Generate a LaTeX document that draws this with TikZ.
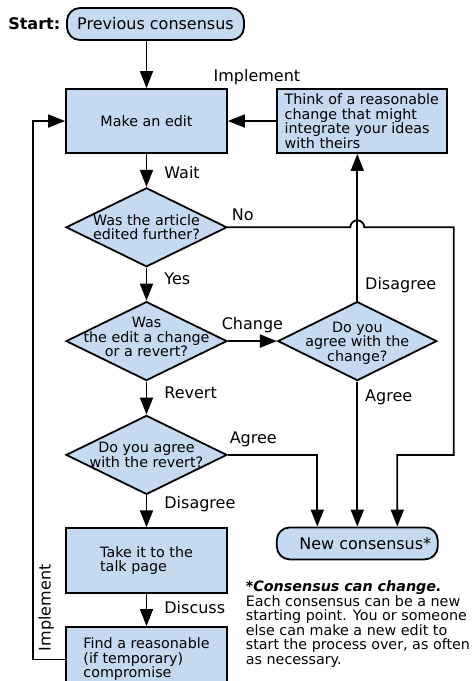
\documentclass[tikz,border=0pt]{standalone}
\usepackage{fontspec}
\setmainfont{DejaVu Sans}
\usepackage{tikz}
\usetikzlibrary{positioning,shapes.geometric,arrows.meta,calc}
\definecolor{boxblue}{RGB}{197,217,240}
\newcommand{\boxfont}{\fontsize{14.3}{14.5}\selectfont}
\newcommand{\lblfont}{\fontsize{16}{18}\selectfont}

\begin{document}
\begin{tikzpicture}[x=1pt, y=-1pt, line width=1.8pt, >={Triangle[length=17pt,width=13pt]},
	box/.style={draw, rectangle, fill=boxblue, minimum width=161pt, minimum height=64pt, align=left, font=\boxfont},
	term/.style={draw, rectangle, rounded corners=13pt, fill=boxblue, minimum height=32pt, font=\lblfont},
	decision/.style={draw, diamond, fill=boxblue, minimum width=161pt, minimum height=79pt, inner sep=0pt},
	dtext/.style={align=center, font=\boxfont, inner sep=0pt},
	lbl/.style={font=\lblfont, inner sep=0pt, text height=11.7pt, text depth=0pt}]
					\useasboundingbox (0,0) rectangle (472,681);
					\node[term, minimum width=177pt] (prev) at (155.5,24) {Previous consensus};
					\node[lbl, font={\lblfont\bfseries}, left=5pt of prev] (start) {Start:};
					\node[box] (edit) at (146.5,121) {Make an edit};
					\node[box, minimum width=170pt, right=48pt of edit] (think) {Think of a reasonable\\change that might\\integrate your ideas\\with theirs};
					\node[decision, below=33pt of edit, label={[dtext]center:{Was the article\\edited further?}}] (q1) {};
					\node[decision, below=33pt of q1, label={[dtext, yshift=4pt]center:{Was\\the edit a change\\or a revert?}}] (q2) {};
					\node[decision, minimum width=159pt, right=49pt of q2, label={[dtext, yshift=-2pt]center:{Do you\\agree with the\\change?}}] (q3) {};
					\node[decision, below=33pt of q2, label={[dtext]center:{Do you agree\\with the revert?}}] (q4) {};
					\node[box, minimum height=65pt, below=32pt of q4] (take) {Take it to the\\talk page};
					\node[box, minimum height=65pt, below=32pt of take] (find) {Find a reasonable\\(if temporary)\\compromise};
					\node[term, minimum width=161pt, below=145pt of q3] (new) {\hspace*{16pt}New consensus*};
					\node[align=left, font=\boxfont, inner sep=0pt, anchor=west] (note) at (245,624) {\textbf{\textit{*Consensus can change.}}\\Each consensus can be a new\\starting point. You or someone\\else can make a new edit to\\start the process over, as often\\as necessary.};
					
					\draw[->] (prev.south -| edit.north) -- (edit.north);
					\draw[->] (think.west) -- (edit.east) node[lbl, midway, yshift=45pt, xshift=5pt] {Implement};
					\draw[->] (edit) -- (q1) node[lbl, anchor=west, pos=.58, xshift=17pt] {Wait};
					\draw[->] (q1.east) node[lbl, anchor=west, xshift=3pt, yshift=13pt] {No} -- ($(q1.east -| q3.north)+(-7pt,0)$) arc[start angle=180, end angle=0, radius=7pt] -- ($(q1.east -| think.east)+(6pt,0)$) |- ($(q4.east -| new.north)+(40pt,0)$) -- ($(new.north)+(40pt,0)$);
					\draw[->] (q1) -- (q2) node[lbl, anchor=west, pos=.33, xshift=17pt] {Yes};
					\draw[->] (q2) -- (q3) node[lbl, midway, above=11pt] {Change};
					\draw[->] (q3) -- (q3 |- think.south) node[lbl, anchor=west, pos=.117, xshift=7pt] {Disagree};
					\draw[->] (q3) -- (q3 |- new.north) node[lbl, anchor=west, pos=.10, xshift=7pt] {Agree};
					\draw[->] (q2) -- (q4) node[lbl, anchor=west, pos=.33, xshift=17pt] {Revert};
					\draw[->] (q4.east) node[lbl, anchor=west, xshift=1pt, yshift=17pt] {Agree} -| ($(new.north)+(-40pt,0)$);
					\draw[->] (q4) -- (take) node[lbl, anchor=west, pos=.22, xshift=17pt] {Disagree};
					\draw[->] (take) -- (find) node[lbl, anchor=west, pos=.43, xshift=17pt] {Discuss};
					\draw[->] (find.west) -- ++(-32,0) |- (edit.west) node[lbl, rotate=90, anchor=north, inner sep=5pt, pos=.048] {Implement};
				\end{tikzpicture}
\end{document}
